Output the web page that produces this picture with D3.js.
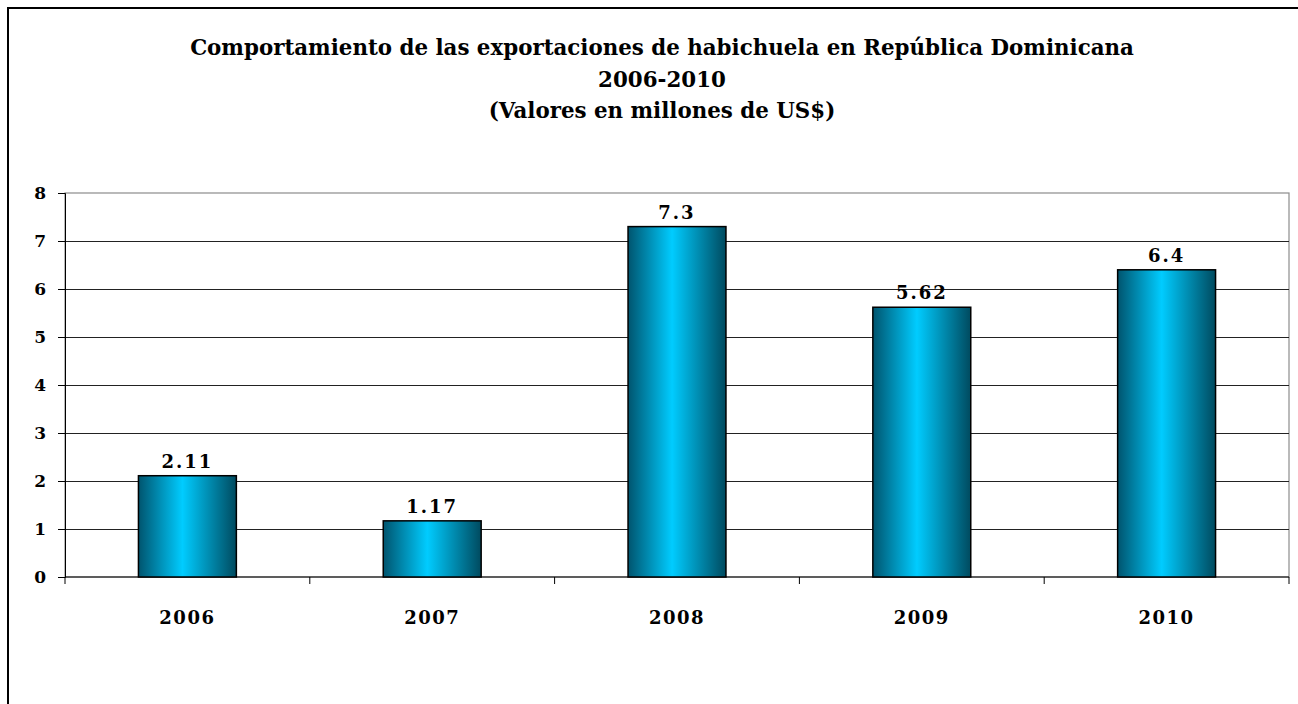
<!DOCTYPE html>
<html>
<head>
<meta charset="utf-8">
<script src="https://cdn.jsdelivr.net/npm/d3@7"></script>
<style>
  body { margin: 0; background: #fff; }
  text { font-family: "DejaVu Serif", "Liberation Serif", serif; font-weight: bold; fill: #000; }
</style>
</head>
<body>
<div id="chart"></div>
<script>
// data
const years = ["2006", "2007", "2008", "2009", "2010"];
const values = [2.11, 1.17, 7.3, 5.62, 6.4];
const valueLabels = ["2.11", "1.17", "7.3", "5.62", "6.4"];
const yTicks = [0, 1, 2, 3, 4, 5, 6, 7, 8];
const titleLines = [
  "Comportamiento de las exportaciones de habichuela en República Dominicana",
  "2006-2010",
  "(Valores en millones de US$)"
];

const width = 1298, height = 704;
const plot = { left: 65, right: 1289, top: 193, bottom: 577 };

const svg = d3.select("#chart").append("svg")
  .attr("width", width)
  .attr("height", height);

// gradient for the bars (dark edges, cyan centre)
const grad = svg.append("defs").append("linearGradient")
  .attr("id", "barGrad")
  .attr("x1", "0%").attr("x2", "100%")
  .attr("y1", "0%").attr("y2", "0%");
grad.append("stop").attr("offset", "0%").attr("stop-color", "#00546e");
grad.append("stop").attr("offset", "45%").attr("stop-color", "#00ccff");
grad.append("stop").attr("offset", "100%").attr("stop-color", "#004a5f");

// outer frame (right and bottom edges fall outside the picture)
svg.append("rect")
  .attr("x", 8).attr("y", 8)
  .attr("width", width + 20).attr("height", height + 20)
  .attr("fill", "none")
  .attr("stroke", "#000")
  .attr("stroke-width", 2);

// title - first line should span about 944px like the original
const title = svg.append("g").selectAll("text")
  .data(titleLines)
  .join("text")
  .attr("x", 662)
  .attr("y", (d, i) => [55, 87, 118][i])
  .attr("text-anchor", "middle")
  .style("font-size", "17px")
  .text(d => d);
const w0 = title.node().getComputedTextLength();
title.style("font-size", (17 * 944 / w0).toFixed(2) + "px");

const x = d3.scaleBand()
  .domain(years)
  .range([plot.left, plot.right])
  .paddingInner(0.6)
  .paddingOuter(0.3);

const y = d3.scaleLinear()
  .domain([0, 8])
  .range([plot.bottom, plot.top]);

// plot area border
svg.append("rect")
  .attr("x", plot.left).attr("y", plot.top)
  .attr("width", plot.right - plot.left)
  .attr("height", plot.bottom - plot.top)
  .attr("fill", "none")
  .attr("stroke", "#8c8c8c")
  .attr("stroke-width", 1.2);

// gridlines
svg.append("g").selectAll("line")
  .data(yTicks.filter(d => d > 0 && d < 8))
  .join("line")
  .attr("x1", plot.left).attr("x2", plot.right)
  .attr("y1", d => Math.round(y(d)) + 0.5)
  .attr("y2", d => Math.round(y(d)) + 0.5)
  .attr("stroke", "#222")
  .attr("stroke-width", 1);

// y axis
const yAxis = svg.append("g")
  .attr("transform", `translate(${plot.left},0)`)
  .call(d3.axisLeft(y).tickValues(yTicks).tickSize(7).tickPadding(12).tickFormat(d3.format("d")));
yAxis.select(".domain").attr("stroke", "#000");
yAxis.selectAll(".tick line").attr("stroke", "#000");
yAxis.selectAll("text").style("font-size", "17px");

// x axis: ticks sit at category boundaries
const bw = (plot.right - plot.left) / years.length;
const xAxis = svg.append("g")
  .attr("transform", `translate(0,${plot.bottom})`);
xAxis.append("line")
  .attr("x1", plot.left).attr("x2", plot.right)
  .attr("y1", 0).attr("y2", 0)
  .attr("stroke", "#000");
xAxis.selectAll("line.tk")
  .data(d3.range(years.length + 1))
  .join("line")
  .attr("class", "tk")
  .attr("x1", i => plot.left + i * bw).attr("x2", i => plot.left + i * bw)
  .attr("y1", 0).attr("y2", 7)
  .attr("stroke", "#000");
xAxis.selectAll("text")
  .data(years)
  .join("text")
  .attr("x", d => x(d) + x.bandwidth() / 2)
  .attr("y", 47)
  .attr("text-anchor", "middle")
  .style("font-size", "18px")
  .style("letter-spacing", "1.5px")
  .text(d => d);

// bars
svg.append("g").selectAll("rect")
  .data(years)
  .join("rect")
  .attr("x", d => x(d))
  .attr("width", x.bandwidth())
  .attr("y", (d, i) => y(values[i]))
  .attr("height", (d, i) => y(0) - y(values[i]))
  .attr("fill", "url(#barGrad)")
  .attr("stroke", "#000")
  .attr("stroke-width", 1.5);

// value labels
svg.append("g").selectAll("text")
  .data(years)
  .join("text")
  .attr("x", d => x(d) + x.bandwidth() / 2)
  .attr("y", (d, i) => y(values[i]) - 8)
  .attr("text-anchor", "middle")
  .style("font-size", "18px")
  .style("letter-spacing", "2px")
  .text((d, i) => valueLabels[i]);
</script>
</body>
</html>
